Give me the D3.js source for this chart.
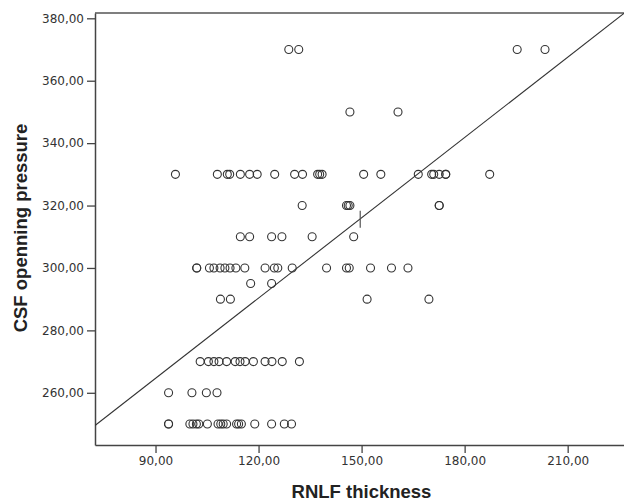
<!DOCTYPE html>
<html>
<head>
<meta charset="utf-8">
<script src="https://cdn.jsdelivr.net/npm/d3@7"></script>
<style>
  html, body { margin: 0; padding: 0; background: #fff; }
  svg { display: block; }
</style>
</head>
<body>
<svg id="chart" width="624" height="501"></svg>
<script>
// ---- Data ----
const xTicks = [90, 120, 150, 180, 210];
const yTicks = [260, 280, 300, 320, 340, 360, 380];
const xDomain = [72.38, 226.4];
const yDomain = [243.27, 381.7];
const xTitle = "RNLF thickness";
const yTitle = "CSF openning pressure";

// CSF opening pressure levels and the RNLF thickness of each case at that level
const csfLevels = [370, 350, 330, 320, 310, 300, 295, 290, 270, 260, 250];
const rnlf370 = [128.8, 131.7, 195.3, 203.4];
const rnlf350 = [146.6, 160.6];
const rnlf330 = [95.8, 108.0, 110.9, 111.6, 114.7, 117.4, 119.6, 124.7, 130.5, 132.8, 137.2, 137.8, 138.5, 150.6, 155.6, 166.5, 170.4, 171.0, 172.6, 174.5, 174.5, 187.3];
const rnlf320 = [132.7, 145.6, 146.1, 146.6, 172.6, 172.6];
const rnlf310 = [114.7, 117.4, 123.8, 126.8, 135.6, 147.7];
const rnlf300 = [102.0, 102.0, 105.7, 107.0, 108.8, 110.2, 111.7, 113.4, 116.0, 121.9, 124.6, 125.6, 129.8, 139.8, 145.6, 146.4, 152.6, 158.7, 163.5];
const rnlf295 = [117.7, 123.8];
const rnlf290 = [108.9, 111.8, 151.6, 169.6];
const rnlf270 = [103.0, 105.4, 107.0, 108.5, 110.7, 113.2, 114.6, 116.1, 118.5, 121.9, 123.9, 126.9, 131.9];
const rnlf260 = [93.8, 100.6, 104.8, 107.9];
const rnlf250 = [93.8, 93.8, 100.0, 100.9, 101.9, 102.6, 105.1, 108.2, 109.0, 109.7, 110.7, 113.6, 114.2, 115.0, 118.9, 123.8, 127.5, 129.6];
const rnlfByLevel = [rnlf370, rnlf350, rnlf330, rnlf320, rnlf310, rnlf300, rnlf295, rnlf290, rnlf270, rnlf260, rnlf250];

// Linear fit (intercept, slope) and its label anchor x
const fitIntercept = 187.45;
const fitSlope = 0.8575;
const fitLabelX = 149.6;

// ---- Layout ----
const plot = { left: 95, right: 624, top: 13, bottom: 445 };
const svg = d3.select("#chart");

const x = d3.scaleLinear().domain(xDomain).range([plot.left, plot.right]);
const y = d3.scaleLinear().domain(yDomain).range([plot.bottom, plot.top]);

const points = [];
csfLevels.forEach((lvl, i) => rnlfByLevel[i].forEach(v => points.push({ x: v, y: lvl })));

// clip
svg.append("defs").append("clipPath").attr("id", "clip")
  .append("rect")
  .attr("x", plot.left).attr("y", plot.top)
  .attr("width", plot.right - plot.left).attr("height", plot.bottom - plot.top);

// frame top line
svg.append("line")
  .attr("x1", plot.left).attr("x2", plot.right)
  .attr("y1", plot.top).attr("y2", plot.top)
  .attr("stroke", "#555").attr("stroke-width", 1.5);

// axes
const fmt = d => d3.format(".2f")(d).replace(".", ",");
const xAxis = svg.append("g")
  .attr("transform", `translate(0,${plot.bottom})`)
  .call(d3.axisBottom(x).tickValues(xTicks).tickFormat(fmt).tickSize(8).tickSizeOuter(0).tickPadding(3));
const yAxis = svg.append("g")
  .attr("transform", `translate(${plot.left},0)`)
  .call(d3.axisLeft(y).tickValues(yTicks).tickFormat(fmt).tickSize(8).tickSizeOuter(0).tickPadding(3));

[xAxis, yAxis].forEach(g => {
  g.select(".domain").attr("stroke", "#444").attr("stroke-width", 1.5);
  g.selectAll(".tick line").attr("stroke", "#444").attr("stroke-width", 1.3);
  g.selectAll(".tick text")
    .attr("fill", "#333")
    .style("font-family", "'DejaVu Sans', sans-serif")
    .style("font-size", "12px");
});

// fit line
const xs = x.domain();
svg.append("g").attr("clip-path", "url(#clip)")
  .append("line")
  .attr("x1", x(xs[0])).attr("y1", y(fitIntercept + fitSlope * xs[0]))
  .attr("x2", x(xs[1])).attr("y2", y(fitIntercept + fitSlope * xs[1]))
  .attr("stroke", "#333").attr("stroke-width", 1.1);

// label anchor marker
const my = y(fitIntercept + fitSlope * fitLabelX);
svg.append("line")
  .attr("x1", x(fitLabelX)).attr("x2", x(fitLabelX))
  .attr("y1", my - 8).attr("y2", my + 9)
  .attr("stroke", "#555").attr("stroke-width", 1.2);

// points
svg.append("g").selectAll("circle")
  .data(points)
  .join("circle")
  .attr("cx", d => x(d.x))
  .attr("cy", d => y(d.y))
  .attr("r", 4)
  .attr("fill", "none")
  .attr("stroke", "#333")
  .attr("stroke-width", 1.1);

// axis titles
svg.append("text")
  .attr("x", (plot.left + plot.right) / 2 + 2)
  .attr("y", 498)
  .attr("text-anchor", "middle")
  .attr("fill", "#222")
  .style("font-family", "'Liberation Sans', Arial, sans-serif")
  .style("font-weight", "bold")
  .style("font-size", "18.5px")
  .text(xTitle);

svg.append("text")
  .attr("transform", `translate(27,${(plot.top + plot.bottom) / 2 - 1}) rotate(-90)`)
  .attr("text-anchor", "middle")
  .attr("fill", "#222")
  .style("font-family", "'Liberation Sans', Arial, sans-serif")
  .style("font-weight", "bold")
  .style("font-size", "18.5px")
  .text(yTitle);
</script>
</body>
</html>
